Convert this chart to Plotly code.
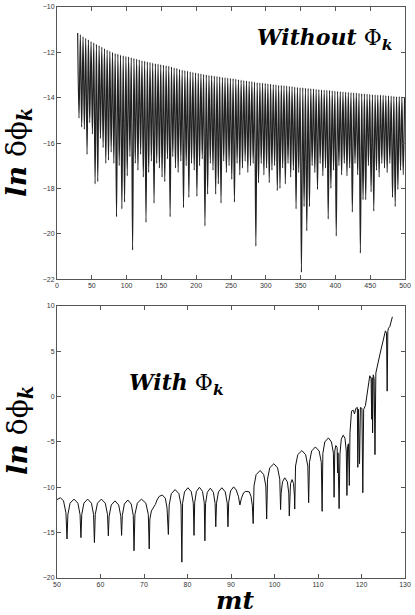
import numpy as np
import plotly.graph_objects as go

# ---------------- top panel: without Phi_k ----------------
# time grid: peaks and troughs alternate (half-period 1.925)
top_t0 = 29.7
top_half_period = 1.925

top_peaks = [
    -11.15, -11.22, -11.30, -11.38, -11.45, -11.52, -11.58, -11.65, -11.70, -11.77,
    -11.83, -11.90, -11.95, -12.00, -12.05, -12.08, -12.12, -12.15, -12.18, -12.20,
    -12.23, -12.27, -12.30, -12.33, -12.36, -12.39, -12.42, -12.44, -12.47, -12.50,
    -12.52, -12.54, -12.56, -12.58, -12.61, -12.64, -12.68, -12.71, -12.75, -12.78,
    -12.80, -12.83, -12.86, -12.88, -12.90, -12.93, -12.95, -12.97, -12.99, -13.01,
    -13.03, -13.05, -13.06, -13.08, -13.10, -13.11, -13.13, -13.15, -13.16, -13.18,
    -13.20, -13.22, -13.24, -13.26, -13.28, -13.29, -13.31, -13.33, -13.34, -13.36,
    -13.37, -13.39, -13.40, -13.42, -13.43, -13.45, -13.46, -13.47, -13.49, -13.50,
    -13.51, -13.53, -13.54, -13.55, -13.56, -13.58, -13.59, -13.60, -13.61, -13.63,
    -13.64, -13.65, -13.66, -13.67, -13.68, -13.70, -13.71, -13.72, -13.73, -13.74,
    -13.75, -13.76, -13.78, -13.79, -13.80, -13.81, -13.82, -13.83, -13.84, -13.85,
    -13.86, -13.87, -13.88, -13.89, -13.90, -13.91, -13.92, -13.93, -13.94, -13.95,
    -13.95, -13.96, -13.97,
]

top_troughs = [
    -14.90, -15.30, -15.40, -16.50, -15.10, -15.60, -17.80, -17.70, -15.80, -16.20,
    -16.90, -16.75, -16.40, -16.90, -19.25, -17.00, -18.90, -18.60, -17.45, -16.60,
    -20.72, -16.90, -17.20, -16.50, -17.50, -19.50, -17.30, -16.80, -18.65, -16.90,
    -17.10, -17.50, -17.70, -16.70, -19.25, -16.60, -17.10, -17.30, -16.80, -18.85,
    -17.00, -18.40, -16.90, -17.20, -18.35, -17.00, -16.70, -19.65, -18.25, -16.90,
    -17.20, -18.25, -17.80, -18.65, -16.80, -17.30, -17.00, -17.60, -18.60, -16.90,
    -17.40, -17.10, -16.80, -17.30, -17.00, -16.90, -20.55, -17.75, -16.90, -17.40,
    -17.10, -17.75, -17.20, -17.00, -18.10, -18.00, -17.10, -17.80, -16.90, -17.50,
    -17.20, -18.90, -17.30, -21.70, -18.80, -19.87, -18.80, -17.00, -17.30, -18.05,
    -16.90, -17.45, -17.10, -19.35, -18.00, -17.20, -20.10, -17.00, -17.40, -16.90,
    -17.45, -17.10, -19.05, -16.90, -17.40, -20.85, -18.50, -18.50, -17.00, -18.15,
    -19.00, -17.20, -17.50, -16.90, -17.10, -17.30, -16.90, -18.40, -18.80, -18.05,
    -17.20, -17.40,
]

# ---------------- bottom panel: with Phi_k ----------------
bot_t = [
    50.0, 50.8, 51.5, 52.05, 52.3,
    52.5, 53.0, 53.9, 54.8, 55.3, 55.5,
    55.69, 56.18, 57.05, 57.92, 58.41, 58.6,
    58.79, 59.3, 60.2, 61.1, 61.61, 61.8,
    61.98, 62.47, 63.33, 64.18, 64.67, 64.85,
    65.02, 65.48, 66.28, 67.07, 67.53, 67.7,
    67.91, 68.47, 69.4, 70.43, 70.99, 71.2,
    71.35, 71.7, 72.3, 72.6, 73.0, 73.5, 74.2, 74.9, 75.3, 75.6,
    75.79, 76.28, 77.15, 78.02, 78.51, 78.7,
    78.87, 79.32, 80.1, 80.88, 81.33, 81.5,
    81.65, 82.05, 82.75, 83.45, 83.85, 84.0,
    84.15, 84.55, 85.25, 85.95, 86.35, 86.5,
    86.67, 87.12, 87.9, 88.68, 89.13, 89.3,
    89.47, 89.9, 90.6, 91.2, 91.7, 92.05, 92.4, 92.9, 93.4, 94.2, 94.6, 94.9, 95.1,
    95.29, 95.78, 96.7, 97.52, 98.01, 98.2,
    98.39, 98.9, 99.85, 100.7, 101.21, 101.4,
    101.52, 101.84, 102.35, 102.96, 103.28, 103.4,
    103.48, 103.68, 104.05, 104.37, 104.57, 104.65,
    104.84, 105.35, 106.3, 107.15, 107.66, 107.85,
    108.04, 108.53, 109.4, 110.27, 110.76, 110.95,
    111.12, 111.56, 112.4, 113.1, 113.54, 113.7,
    113.85, 114.1, 114.4, 114.5, 114.6, 114.85, 115.05, 115.35, 115.8, 116.2, 116.5,
    116.65, 116.8, 117.0, 117.2, 117.35, 117.7, 118.1, 118.4, 118.7, 119.05, 119.15,
    119.3, 119.55, 119.75, 120.1, 120.3, 120.5, 120.9, 121.9, 122.2, 122.35, 122.45,
    122.55, 122.7, 122.9, 123.1, 123.3, 124.3, 125.5, 125.75, 125.9, 126.05, 126.2,
    126.5, 127.1,
]
bot_v = [
    -11.35, -11.15, -11.5, -12.8, -15.7,
    -13.0, -11.75, -11.3, -11.75, -13.0, -15.55,
    -13.0, -11.75, -11.3, -11.75, -13.0, -16.1,
    -13.0, -11.75, -11.3, -11.75, -13.0, -15.35,
    -13.2, -11.95, -11.5, -11.95, -13.2, -15.3,
    -13.1, -11.85, -11.4, -11.85, -13.1, -17.0,
    -13.0, -11.75, -11.3, -11.75, -13.0, -16.8,
    -13.5, -12.6, -12.2, -11.9, -11.4, -11.0, -10.85, -11.2, -12.3, -15.2,
    -11.95, -10.7, -10.25, -10.7, -11.95, -18.25,
    -11.75, -10.5, -10.05, -10.5, -11.75, -15.3,
    -11.7, -10.45, -10.0, -10.45, -11.7, -15.9,
    -11.8, -10.55, -10.1, -10.55, -11.8, -14.35,
    -11.75, -10.5, -10.05, -10.5, -11.75, -14.35,
    -11.65, -10.4, -9.95, -10.3, -11.0, -11.95, -11.2, -10.6, -10.45, -10.5, -11.0, -12.0, -14.0,
    -9.85, -8.6, -8.15, -8.6, -9.85, -13.5,
    -9.1, -7.85, -7.4, -7.85, -9.1, -12.45,
    -10.65, -9.4, -8.95, -9.4, -10.65, -13.15,
    -10.85, -9.6, -9.15, -9.6, -10.85, -12.4,
    -7.65, -6.4, -5.95, -6.4, -7.65, -11.7,
    -7.25, -6.0, -5.55, -6.0, -7.25, -12.65,
    -6.25, -5.0, -4.55, -5.0, -6.25, -11.1,
    -6.0, -5.4, -5.6, -8.4, -6.2, -12.35, -6.3, -4.7, -4.25, -4.6, -6.0,
    -10.9, -5.5, -5.2, -9.8, -4.0, -1.6, -1.5, -1.9, -1.3, -1.2, -7.8,
    -1.4, -7.4, -1.2, -1.3, -10.6, -1.4, -1.0, 2.3, 2.0, -2.5, 2.1,
    -4.0, 2.4, 2.0, -6.4, 2.6, 4.8, 7.25, 7.0, 0.6, 7.2, 7.55,
    7.7, 8.8,
]

top_xticks = [0, 50, 100, 150, 200, 250, 300, 350, 400, 450, 500]
top_yticks = [-22, -20, -18, -16, -14, -12, -10]
bot_xticks = [50, 60, 70, 80, 90, 100, 110, 120, 130]
bot_yticks = [-20, -15, -10, -5, 0, 5, 10]

# interleave peaks and troughs on the time grid
top_v = []
for i in range(len(top_troughs)):
    top_v.append(top_peaks[i])
    top_v.append(top_troughs[i])
top_v.append(top_peaks[-1])
top_t = top_t0 + top_half_period * np.arange(len(top_v))

W, H = 415, 615
ML, MR, MT, MB = 57, 10, 3, 37
plot_w = W - ML - MR
plot_h = H - MT - MB
top_dom = [(578 - 277) / plot_h, 1.0]
bot_dom = [0.0, (578 - 304) / plot_h]

fig = go.Figure()
fig.add_trace(go.Scatter(x=top_t, y=top_v, mode="lines",
                         line=dict(color="#222222", width=1.2, shape="spline", smoothing=1.0),
                         xaxis="x", yaxis="y", showlegend=False, hoverinfo="skip"))
fig.add_trace(go.Scatter(x=bot_t, y=bot_v, mode="lines",
                         line=dict(color="#111111", width=1.0),
                         xaxis="x2", yaxis="y2", showlegend=False, hoverinfo="skip"))

axcommon = dict(showline=True, linecolor="#555555", linewidth=1, mirror="ticks",
                ticks="inside", ticklen=4, tickcolor="#555555", tickwidth=1,
                showgrid=False, zeroline=False, ticklabeloverflow="allow",
                tickfont=dict(family="Liberation Sans, Arial", size=7, color="#333333"))

fig.update_layout(
    width=W, height=H,
    margin=dict(l=ML, r=MR, t=MT, b=MB),
    paper_bgcolor="white", plot_bgcolor="white",
    xaxis=dict(domain=[0, 1], anchor="y", range=[0, 500], tickvals=top_xticks, **axcommon),
    yaxis=dict(domain=top_dom, anchor="x", range=[-22, -10], tickvals=top_yticks, **axcommon),
    xaxis2=dict(domain=[0, 1], anchor="y2", range=[50, 130], tickvals=bot_xticks, **axcommon),
    yaxis2=dict(domain=bot_dom, anchor="x2", range=[-20, 10], tickvals=bot_yticks, **axcommon),
)

serif = "DejaVu Serif"
ylabel = "<b><i>ln</i></b> δϕ<sub><b><i>k</i></b></sub>"


def add_text(text, px, py, size, angle=0):
    fig.add_annotation(text=text, x=(px - ML) / plot_w, y=1 - (py - MT) / plot_h,
                       xref="paper", yref="paper", xanchor="center", yanchor="middle",
                       showarrow=False, textangle=angle,
                       font=dict(family=serif, size=size, color="black"))


add_text(ylabel, 19, 150, 28, -90)
add_text(ylabel, 19, 430, 28, -90)
add_text("<b><i>Without</i></b> Φ<sub><b><i>k</i></b></sub>", 324, 35, 22)
add_text("<b><i>With</i></b> Φ<sub><b><i>k</i></b></sub>", 176, 383, 22)
add_text("<b><i>mt</i></b>", 235, 601, 25)

fig.write_html("out.html", config={"displayModeBar": False, "staticPlot": True},
               post_script="document.body.style.margin='0';document.body.style.overflow='hidden';")
